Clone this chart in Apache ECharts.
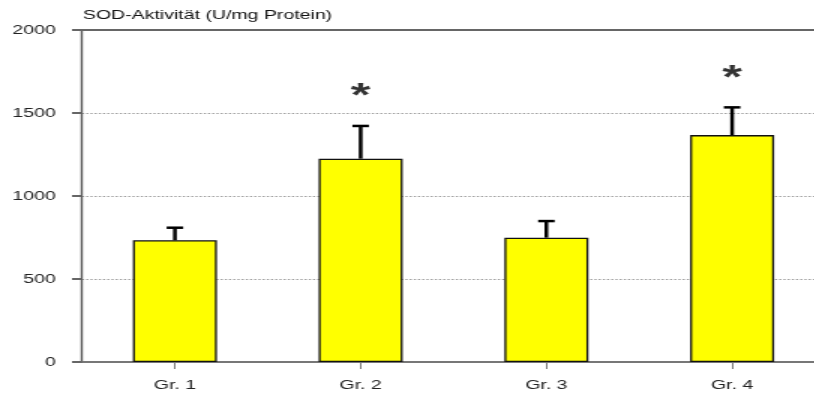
<!DOCTYPE html>
<html><head><meta charset="utf-8">
<script src="https://cdn.jsdelivr.net/npm/echarts@6/dist/echarts.min.js"></script>
<style>html,body{margin:0;padding:0;background:#fff;overflow:hidden;width:814px;height:396px}
#c{width:560px;height:396px;transform:scaleX(1.5);transform-origin:0 0}</style>
</head><body><div id="c"></div>
<script>
const categories = ['Gr. 1', 'Gr. 2', 'Gr. 3', 'Gr. 4'];
const means = [733, 1225, 749, 1367];
const errors = [76, 197, 100, 167];
const significant = [false, true, false, true];
const yTicks = [0, 500, 1000, 1500, 2000];
const yTitle = 'SOD-Aktivität (U/mg Protein)';

const chart = echarts.init(document.getElementById('c'));
const FONT = '"Liberation Sans", Arial, sans-serif';

const errData = means.map((m, i) => [i, m, m + errors[i]]);
const starData = means.map((m, i) => significant[i] ? [i, m + errors[i]] : null).filter(d => d);

chart.setOption({
  animation: false,
  title: {
    text: yTitle, left: 55.3, top: 9, padding: 0,
    textStyle: { fontFamily: FONT, fontSize: 13, fontWeight: 'normal', color: '#111' }
  },
  grid: { left: 54.7, right: 10, top: 30, bottom: 34 },
  xAxis: [{
    type: 'category', data: categories,
    axisLine: { show: true, lineStyle: { color: '#777', width: 2 } },
    axisTick: { show: true, alignWithLabel: true, length: 7, lineStyle: { color: '#777' } },
    axisLabel: { fontFamily: FONT, fontSize: 13, color: '#222', margin: 17 }
  }, {
    type: 'category', data: categories, position: 'top',
    axisLine: { show: true, lineStyle: { color: '#666', width: 2 } },
    axisTick: { show: false }, axisLabel: { show: false }
  }],
  yAxis: {
    type: 'value', min: yTicks[0], max: yTicks[yTicks.length - 1], interval: 500,
    axisLine: { show: true, lineStyle: { color: '#555', width: 1.4 } },
    axisTick: { show: true, length: 6.7, inside: false, lineStyle: { color: '#666', width: 2 } },
    axisLabel: { fontFamily: FONT, fontSize: 13, color: '#222', margin: 17.5, formatter: v => String(v) },
    splitLine: { show: true, lineStyle: { color: '#999', type: [1.4, 1.4], width: 1 } }
  },
  series: [{
    type: 'bar', data: means, barWidth: 56,
    itemStyle: { color: '#ffff00', borderColor: '#111', borderWidth: 1.3 },
    z: 2
  }, {
    type: 'custom', data: errData, z: 3,
    renderItem: function (params, api) {
      const lo = api.coord([api.value(0), api.value(1)]);
      const hi = api.coord([api.value(0), api.value(2)]);
      const w = 5.5;
      return {
        type: 'group', children: [
          { type: 'line', shape: { x1: lo[0], y1: lo[1], x2: hi[0], y2: hi[1] }, style: { stroke: '#000', lineWidth: 2.5 } },
          { type: 'line', shape: { x1: hi[0] - w, y1: hi[1], x2: hi[0] + w, y2: hi[1] }, style: { stroke: '#000', lineWidth: 2.5 } }
        ]
      };
    }
  }, {
    type: 'scatter', data: starData, symbolSize: 0, z: 4,
    label: {
      show: true, formatter: '*', position: 'top', distance: 12,
      fontFamily: FONT, fontSize: 34, fontWeight: 'bold', color: '#000'
    }
  }]
});
</script></body></html>
